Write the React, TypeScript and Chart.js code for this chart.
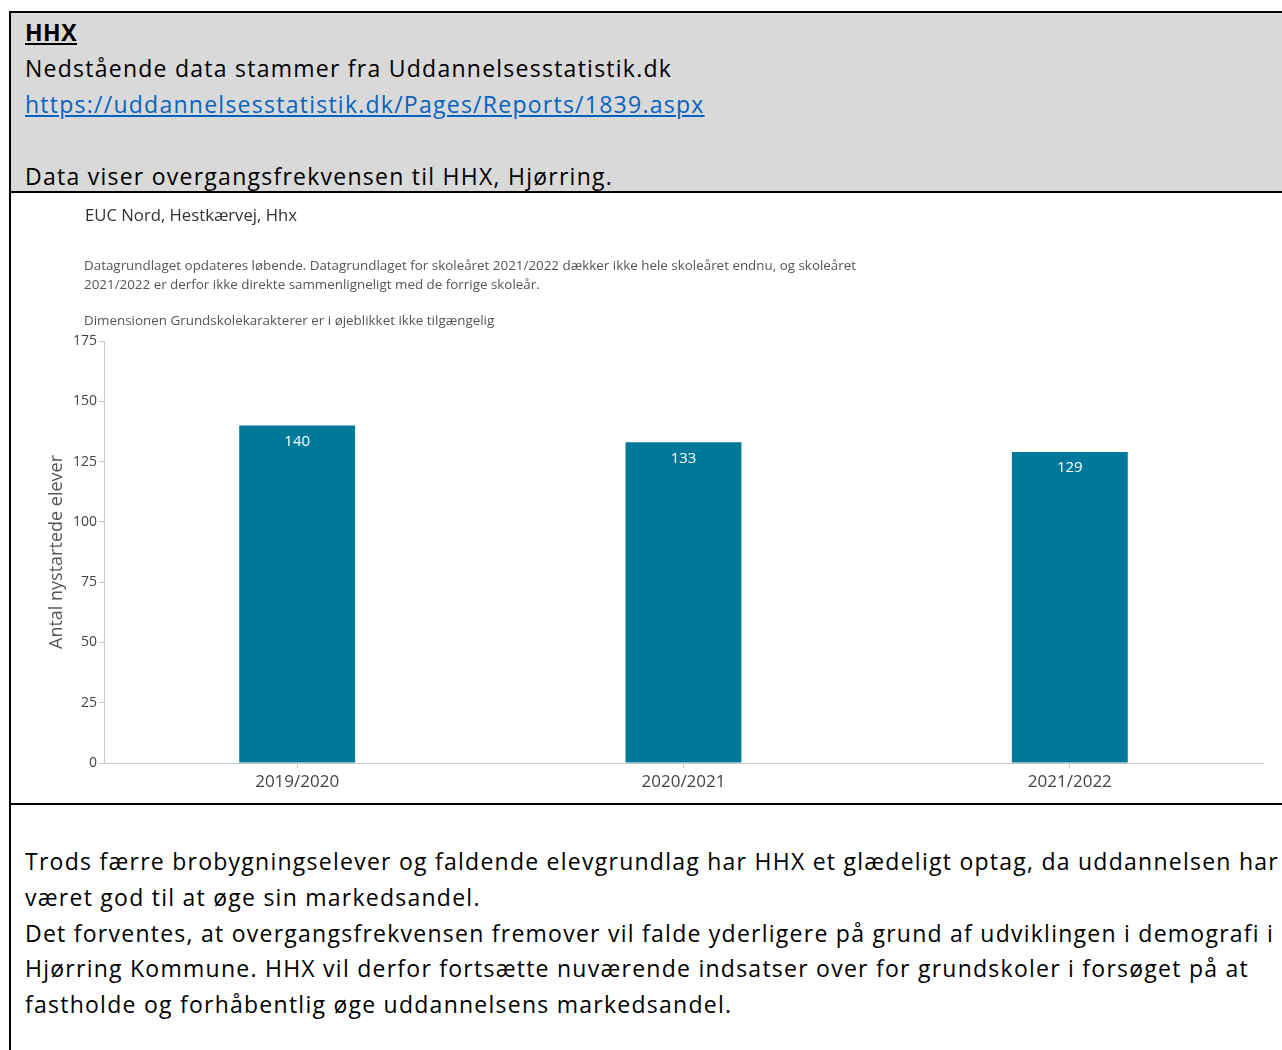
import React, { useEffect, useRef } from "react";
import { Chart, registerables } from "chart.js";

Chart.register(...registerables);

// ---- data ----
const categories = ["2019/2020", "2020/2021", "2021/2022"];
const values = [140, 133, 129];
const yMin = 0;
const yMax = 175;
const yStep = 25;
const yAxisTitle = "Antal nystartede elever";

const chartTitle = "EUC Nord, Hestkærvej, Hhx";
const noteLines = [
  "Datagrundlaget opdateres løbende. Datagrundlaget for skoleåret 2021/2022 dækker ikke hele skoleåret endnu, og skoleåret",
  "2021/2022 er derfor ikke direkte sammenligneligt med de forrige skoleår.",
];
const dimensionNote = "Dimensionen Grundskolekarakterer er i øjeblikket ikke tilgængelig";

const headerTitle = "HHX";
const headerLine = "Nedstående data stammer fra Uddannelsesstatistik.dk";
const headerLink = "https://uddannelsesstatistik.dk/Pages/Reports/1839.aspx";
const headerData = "Data viser overgangsfrekvensen til HHX, Hjørring.";

const bodyLines = [
  "Trods færre brobygningselever og faldende elevgrundlag har HHX et glædeligt optag, da uddannelsen har",
  "været god til at øge sin markedsandel.",
  "Det forventes, at overgangsfrekvensen fremover vil falde yderligere på grund af udviklingen i demografi i",
  "Hjørring Kommune. HHX vil derfor fortsætte nuværende indsatser over for grundskoler i forsøget på at",
  "fastholde og forhåbentlig øge uddannelsens markedsandel.",
];

const barColor = "#00799a";
const docFont = "'Open Sans', 'Noto Sans', sans-serif";
const chartFont = "'Open Sans', 'Noto Sans', sans-serif";

const valueLabels = {
  id: "valueLabels",
  afterDatasetsDraw(chart: any) {
    const ctx = chart.ctx;
    const meta = chart.getDatasetMeta(0);
    const data = chart.data.datasets[0].data as number[];
    ctx.save();
    ctx.fillStyle = "#ffffff";
    ctx.font = "15px 'Open Sans', sans-serif";
    ctx.textAlign = "center";
    ctx.textBaseline = "middle";
    meta.data.forEach((bar: any, i: number) => {
      ctx.fillText(String(data[i]), bar.x, bar.y + 16);
    });
    ctx.restore();
  },
};

function BarChart() {
  const ref = useRef<HTMLCanvasElement | null>(null);
  useEffect(() => {
    if (!ref.current) return;
    const chart = new Chart(ref.current, {
      type: "bar",
      data: {
        labels: categories,
        datasets: [
          {
            data: values,
            backgroundColor: barColor,
            barPercentage: 0.3,
            categoryPercentage: 1.0,
          },
        ],
      },
      options: {
        animation: false,
        responsive: false,
        maintainAspectRatio: false,
        layout: { padding: { left: 31, right: 19, top: 148, bottom: 0 } },
        plugins: {
          legend: { display: false },
          tooltip: { enabled: false },
        },
        scales: {
          x: {
            afterFit: (s: any) => {
              s.height = 40;
            },
            grid: {
              display: true,
              drawOnChartArea: false,
              offset: false,
              tickLength: 5,
              color: "#c8c8c8",
            },
            border: { color: "#c8c8c8" },
            ticks: {
              padding: 4,
              color: "#444",
              font: { family: chartFont, size: 17 },
            },
          },
          y: {
            min: yMin,
            max: yMax,
            afterFit: (s: any) => {
              s.width = 62;
            },
            ticks: {
              stepSize: yStep,
              padding: 2,
              color: "#444",
              font: { family: chartFont, size: 14 },
            },
            grid: {
              display: true,
              drawOnChartArea: false,
              tickLength: 5,
              color: "#c8c8c8",
            },
            border: { color: "#c8c8c8" },
            title: {
              display: true,
              text: yAxisTitle,
              color: "#555",
              font: { family: chartFont, size: 18 },
            },
          },
        },
      },
      plugins: [valueLabels],
    });
    return () => chart.destroy();
  }, []);
  return (
    <canvas
      ref={ref}
      width={1271}
      height={610}
      style={{ position: "absolute", left: 0, top: 0, width: 1271, height: 610 }}
    />
  );
}

export default function App() {
  useEffect(() => {
    document.body.style.margin = "0";
  }, []);
  return (
    <div style={{ position: "relative", width: 1282, height: 1050, overflow: "hidden", background: "#fff" }}>
      {/* header cell */}
      <div
        style={{
          position: "absolute",
          left: 9,
          top: 11,
          width: 1300,
          height: 182,
          boxSizing: "border-box",
          background: "#d9d9d9",
          borderTop: "2px solid #000",
          borderLeft: "2px solid #000",
          borderBottom: "2px solid #000",
          paddingLeft: 14,
          paddingTop: 1,
          fontFamily: docFont,
          fontSize: 23,
          letterSpacing: "1.25px",
          lineHeight: "36px",
          color: "#000",
          whiteSpace: "nowrap",
        }}
      >
        <div style={{ fontWeight: "bold", textDecoration: "underline", letterSpacing: "0.5px" }}>{headerTitle}</div>
        <div>{headerLine}</div>
        <div style={{ color: "#0563c1", textDecoration: "underline" }}>{headerLink}</div>
        <div>&nbsp;</div>
        <div>{headerData}</div>
      </div>

      {/* chart cell */}
      <div
        style={{
          position: "absolute",
          left: 9,
          top: 193,
          width: 1300,
          height: 612,
          boxSizing: "border-box",
          borderLeft: "2px solid #000",
          borderBottom: "2px solid #000",
        }}
      >
        <div style={{ position: "absolute", left: 0, top: 0, width: 1271, height: 610 }}>
          <BarChart />
          <div
            style={{
              position: "absolute",
              left: 74,
              top: 12,
              fontFamily: chartFont,
              fontSize: 16.7,
              color: "#333",
              whiteSpace: "nowrap",
              lineHeight: "20px",
            }}
          >
            {chartTitle}
          </div>
          <div
            style={{
              position: "absolute",
              left: 73,
              top: 63,
              fontFamily: chartFont,
              fontSize: 13.4,
              color: "#555",
              whiteSpace: "nowrap",
              lineHeight: "19px",
            }}
          >
            {noteLines.map((l, i) => (
              <div key={i}>{l}</div>
            ))}
          </div>
          <div
            style={{
              position: "absolute",
              left: 73,
              top: 118,
              fontFamily: chartFont,
              fontSize: 13.4,
              color: "#555",
              whiteSpace: "nowrap",
              lineHeight: "19px",
            }}
          >
            {dimensionNote}
          </div>
        </div>
      </div>

      {/* text cell */}
      <div
        style={{
          position: "absolute",
          left: 9,
          top: 805,
          width: 1300,
          height: 260,
          boxSizing: "border-box",
          borderLeft: "2px solid #000",
          paddingLeft: 14,
          paddingTop: 39,
          fontFamily: docFont,
          fontSize: 23,
          letterSpacing: "1.25px",
          lineHeight: "35.8px",
          color: "#000",
          whiteSpace: "nowrap",
        }}
      >
        {bodyLines.map((l, i) => (
          <div key={i}>{l}</div>
        ))}
      </div>
    </div>
  );
}
